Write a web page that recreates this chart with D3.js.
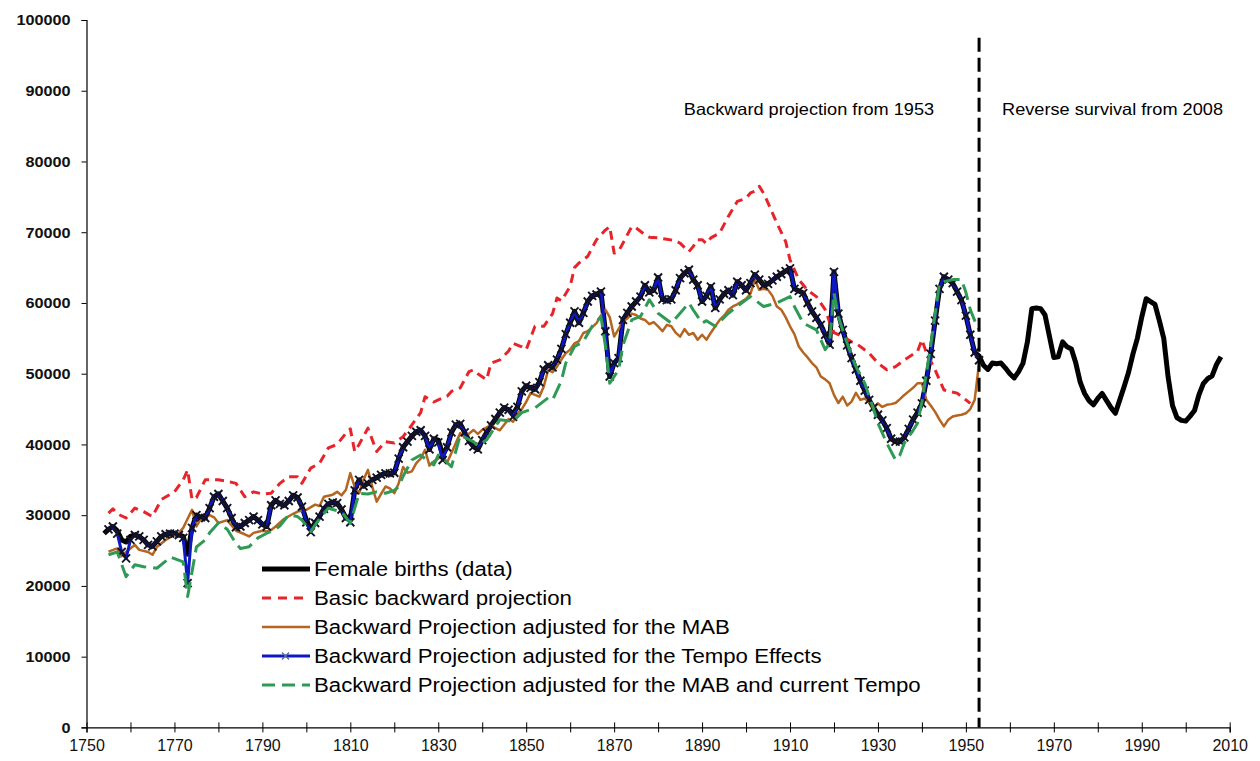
<!DOCTYPE html>
<html>
<head>
<meta charset="utf-8">
<script src="https://cdn.jsdelivr.net/npm/d3@7"></script>
<style>
body { margin: 0; background: #fff; }
svg { font-family: "Liberation Sans", Arial, sans-serif; }
</style>
</head>
<body>
<div class="chart"></div>
<script>
var chartWidth = 1260;
var chartHeight = 761;

// female births (data), one value per year from 1754 to 2008
var birthsStartYear = 1754;
var birthsData = [
    27400,28000,28400,27800,26500,26200,27000,27200,27000,26500,
    25800,25600,26300,27000,27300,27400,27400,27200,27000,24500,
    28200,30000,29700,29600,31000,32600,33000,32000,31000,29600,
    28300,28400,28900,29300,29800,29300,28700,28400,31400,32100,
    31600,31400,32000,32800,32500,31200,29300,28000,28900,29800,
    30900,31600,31800,31700,30800,29600,29300,33500,35000,34100,
    34500,35000,35300,35700,35900,35900,36000,38000,39600,40400,
    41200,41800,42000,41200,39300,40800,40600,38500,39600,41700,
    42800,42900,41700,40500,39700,39300,40600,41700,42700,43600,
    44500,45200,44900,44300,45300,47500,48300,48000,47800,48800,
    50600,51200,50900,52000,53500,55600,57200,58800,57200,58600,
    60200,61000,61200,61600,56000,49600,51500,52200,57600,58600,
    59500,60200,60900,62500,61500,61800,63600,60500,60400,60500,
    61800,63500,64200,64700,63300,62500,60200,61000,62300,59300,
    60500,61300,61800,61100,63000,62500,61800,62800,64000,63300,
    62500,62700,63200,63700,64100,64500,64900,62000,61700,61400,
    60000,58800,57900,56900,55500,54100,64400,58500,56200,54000,
    52200,50600,49000,47600,46300,45200,44200,43400,42300,40800,
    40400,40400,41000,42200,43500,44500,45800,49000,52800,57500,
    62000,63700,63300,62800,61600,60400,58200,55500,53000,52500,
    51200,50600,51500,51400,51500,50800,50000,49400,50300,51500,
    54500,59200,59300,59200,58300,55300,52300,52400,54500,53800,
    53500,51500,48800,47200,46200,45600,46500,47200,46200,45200,
    44400,46300,48200,50200,52800,55000,58000,60600,60200,59800,
    57500,55000,49500,45500,43800,43400,43300,44000,44800,47000,
    48600,49300,49700,51300,52400
];

// backward projection adjusted for the tempo effects, 1755 to 1953
var tempoStartYear = 1755;
var tempoAdjusted = [
    28000,28400,27400,24800,23900,26500,27200,27000,26500,25800,
    25600,26300,27000,27300,27400,27400,27200,26800,20400,28200,
    30000,29700,29600,31000,32600,33000,32000,31000,29600,28300,
    28400,28900,29300,29800,29300,28700,28400,31400,32100,31600,
    31400,32000,32800,32500,31200,29000,27600,28900,29800,30900,
    31600,31800,31700,30800,29600,29000,33500,35000,34100,34500,
    35000,35300,35700,35900,35900,36000,38000,39600,40400,41200,
    41800,42000,41200,39300,40800,40300,37800,39600,41700,42800,
    42900,41700,40500,39700,39300,40600,41700,42700,43600,44500,
    45200,44900,43900,45300,47500,48300,48000,47800,48800,50600,
    51200,50900,52000,53500,55600,57200,58800,57200,58600,60200,
    61000,61200,61600,56000,49600,51500,52200,57600,58600,59500,
    60200,60900,62500,61500,61800,63600,60500,60400,60500,61800,
    63500,64200,64700,63300,62500,60200,61000,62300,59300,60500,
    61300,61800,61100,63000,62500,61800,62800,64000,63300,62500,
    62700,63200,63700,64100,64500,64900,62000,61700,61400,60000,
    58800,57900,56900,55500,54100,64400,58500,56200,54000,52200,
    50600,49000,47600,46300,45200,44200,43400,42300,40800,40400,
    40400,41000,42200,43500,44500,45800,49000,52800,57500,62000,
    63700,63300,62800,61600,60400,58200,55500,53000,51900
];

// basic backward projection [year, births]
var basicProjection = [
    [1755,30300],[1756,30900],[1757,30200],[1759,29600],[1761,31000],[1763,30500],
    [1765,29800],[1767,32200],[1770,33300],[1772,35000],[1773,36400],[1774,32200],
    [1775,32500],[1777,35000],[1780,35000],[1782,34800],[1784,34500],[1786,32600],
    [1788,33300],[1790,33000],[1792,33100],[1794,34500],[1796,35450],[1798,35450],
    [1799,34500],[1801,36650],[1803,37350],[1805,39500],[1807,40000],[1809,41600],
    [1810,42200],[1811,39000],[1812,40000],[1814,42300],[1816,39000],[1818,40400],
    [1820,40200],[1822,41100],[1824,42750],[1826,44500],[1827,46750],[1829,46000],
    [1830,46300],[1832,46800],[1833,47500],[1835,48000],[1837,50300],[1838,50550],
    [1839,50000],[1841,49150],[1842,51500],[1844,51950],[1846,53200],[1847,54300],
    [1849,53800],[1850,53400],[1852,56700],[1854,56700],[1856,58500],[1857,60700],
    [1858,60300],[1860,62350],[1861,65000],[1862,65650],[1864,66600],[1866,68950],
    [1868,70300],[1869,70800],[1870,67050],[1871,67300],[1872,68450],[1874,70800],
    [1875,70600],[1877,69650],[1878,69300],[1880,69200],[1882,69000],[1884,68800],
    [1885,68450],[1887,67250],[1888,68000],[1889,68950],[1890,68950],[1891,68400],
    [1892,69200],[1894,69900],[1896,72250],[1898,74350],[1900,74800],[1901,75550],
    [1902,75800],[1903,76500],[1904,75500],[1905,74150],[1907,71300],[1909,68700],
    [1910,66100],[1912,63300],[1914,61800],[1916,60900],[1918,59050],[1919,57300],
    [1920,55800],[1922,55250],[1924,54500],[1925,54300],[1928,52900],[1930,51500],
    [1932,50550],[1934,51000],[1936,51950],[1939,53150],[1940,54800],[1941,53000],
    [1943,50550],[1945,47700],[1948,47250],[1950,46300],[1951,45800]
];

// backward projection adjusted for the MAB [year, births]
var mabAdjusted = [
    [1755,24850],[1757,25300],[1758,24200],[1759,24800],[1761,25800],[1762,25100],
    [1764,24800],[1765,24400],[1766,25500],[1768,26500],[1770,27200],[1771,27500],
    [1772,28200],[1773,29500],[1774,30750],[1775,28400],[1776,29500],[1778,30000],
    [1779,29700],[1780,28900],[1782,29300],[1784,27800],[1786,27300],[1787,27000],
    [1788,27500],[1790,27800],[1791,27700],[1792,27900],[1793,28400],[1795,29500],
    [1797,30200],[1798,30500],[1800,30750],[1802,31500],[1803,31300],[1804,32600],
    [1806,32900],[1807,33300],[1808,32800],[1809,33600],[1810,35950],[1811,34000],
    [1812,33100],[1813,35000],[1814,36400],[1815,34000],[1816,31900],[1817,33000],
    [1818,34050],[1819,33800],[1820,33100],[1821,34500],[1822,36800],[1823,36000],
    [1824,36200],[1825,37350],[1826,38000],[1827,39250],[1828,37000],[1829,37600],
    [1830,38000],[1831,38500],[1832,37400],[1833,38800],[1834,40200],[1835,41600],
    [1836,41000],[1838,42050],[1839,41500],[1840,42050],[1842,42750],[1843,42300],
    [1844,42000],[1846,43600],[1847,43200],[1848,44400],[1849,45000],[1850,46000],
    [1851,47250],[1853,46750],[1854,48200],[1855,50550],[1856,50200],[1857,51000],
    [1858,52000],[1859,52900],[1860,53400],[1861,54300],[1862,54600],[1863,55750],
    [1864,56000],[1866,57150],[1867,58200],[1868,59050],[1869,58000],[1870,55250],
    [1871,56300],[1872,57400],[1873,57800],[1874,58500],[1875,58300],[1876,57800],
    [1877,57600],[1878,57000],[1879,57300],[1880,56700],[1881,56000],[1882,56900],
    [1883,56700],[1884,55800],[1885,55250],[1886,56300],[1887,55500],[1888,55750],
    [1889,54800],[1890,55500],[1891,54800],[1892,55800],[1893,56700],[1894,57600],
    [1895,58200],[1896,59050],[1897,59500],[1898,59800],[1899,60200],[1900,60600],
    [1901,61300],[1902,63300],[1903,61850],[1904,62000],[1905,61850],[1906,61000],
    [1907,59500],[1908,59050],[1909,58000],[1910,56700],[1911,55600],[1912,53850],
    [1913,53000],[1914,52300],[1915,51500],[1916,50900],[1917,49600],[1918,49200],
    [1919,48650],[1920,47000],[1921,45850],[1922,46750],[1923,45500],[1924,46050],
    [1925,47300],[1926,46300],[1927,46500],[1928,45900],[1929,45150],[1930,45800],
    [1931,45300],[1932,45600],[1933,45700],[1934,45850],[1935,46400],[1936,47000],
    [1937,47500],[1938,48000],[1939,48650],[1940,48650],[1941,46300],[1942,45500],
    [1943,44600],[1944,43500],[1945,42550],[1946,43500],[1947,43950],[1948,44100],
    [1949,44200],[1950,44400],[1951,45000],[1952,46300],[1953,51500]
];

// backward projection adjusted for the MAB and current tempo [year, births]
var mabTempoAdjusted = [
    [1755,24400],[1757,24800],[1759,21300],[1761,23000],[1763,22700],[1766,22500],
    [1768,23500],[1769,24100],[1772,23400],[1773,18500],[1775,25500],[1777,26500],
    [1778,27500],[1780,28900],[1782,28000],[1784,26000],[1785,25300],[1787,25550],
    [1789,26800],[1791,27450],[1793,28000],[1794,28500],[1796,30050],[1798,29800],
    [1799,29300],[1801,27700],[1803,29500],[1805,31000],[1806,30800],[1808,30500],
    [1810,28850],[1812,33100],[1814,33000],[1816,33300],[1818,33100],[1820,33500],
    [1821,34050],[1822,35500],[1824,37800],[1826,38500],[1827,38000],[1829,37100],
    [1830,38500],[1831,38000],[1833,36850],[1835,41300],[1836,41000],[1838,40400],
    [1839,39800],[1841,40650],[1844,43500],[1847,43250],[1849,44500],[1852,45150],
    [1855,46600],[1856,46300],[1858,49000],[1859,51500],[1861,53850],[1863,54550],
    [1865,56700],[1867,58100],[1868,54000],[1869,48650],[1871,50550],[1872,54000],
    [1874,57600],[1876,58100],[1878,60450],[1880,58550],[1883,57150],[1885,58550],
    [1887,60000],[1888,59000],[1890,57150],[1891,57500],[1893,56700],[1896,58550],
    [1899,60000],[1901,60900],[1904,59500],[1907,60000],[1910,60900],[1911,59500],
    [1913,57150],[1916,56200],[1918,53400],[1919,54300],[1920,61400],[1921,58000],
    [1923,54300],[1925,51000],[1927,48650],[1929,45000],[1930,43000],[1932,40200],
    [1934,37800],[1935,38500],[1936,40200],[1938,42000],[1939,43000],[1940,46000],
    [1942,54000],[1944,62800],[1945,63000],[1947,63300],[1949,63300],[1950,61500],
    [1951,59050],[1952,57500],[1953,56200]
];

var xTickValues = d3.range(1750, 2011, 10);
var yTickValues = d3.range(0, 100001, 10000);
var splitYear = 1953;
var splitTop = 97500;
var leftNote = "Backward projection from 1953";
var rightNote = "Reverse survival from 2008";
var legendLabels = [
    "Female births (data)",
    "Basic backward projection",
    "Backward Projection adjusted for the MAB",
    "Backward Projection adjusted for the Tempo Effects",
    "Backward Projection adjusted for the MAB and current Tempo"
];

var svg = d3.select(".chart")
    .append("svg")
    .attr("width", chartWidth)
    .attr("height", chartHeight);

var xScale = d3.scaleLinear()
    .domain([1750, 2010])
    .range([86.5, 1229.7]);

var yScale = d3.scaleLinear()
    .domain([0, 100000])
    .range([727.4, 20]);

// the source picture is a bit wider than tall, stretch text to match
function stretchText(sel, factor) {
    sel.each(function() {
        var len = this.getComputedTextLength();
        if (len > 0) {
            d3.select(this)
                .attr("textLength", len * factor)
                .attr("lengthAdjust", "spacingAndGlyphs");
        }
    });
}

// axes
var xAxis = svg.append("g")
    .attr("transform", `translate(0,${yScale(0)})`)
    .call(d3.axisBottom(xScale)
        .tickValues(xTickValues)
        .tickSize(5)
        .tickPadding(7)
        .tickFormat(function(d) { return (d - 1750) % 20 === 0 ? d : ""; }));
xAxis.selectAll(".tick line").attr("y1", -5);

var yAxis = svg.append("g")
    .attr("transform", `translate(${xScale(1750)},0)`)
    .call(d3.axisLeft(yScale)
        .tickValues(yTickValues)
        .tickSize(5)
        .tickPadding(11)
        .tickFormat(d3.format("d")));

[xAxis, yAxis].forEach(function(ax) {
    ax.select(".domain").attr("stroke", "#000").attr("stroke-width", 1.2);
    ax.selectAll(".tick line").attr("stroke", "#000");
    ax.selectAll("text").attr("fill", "#111")
        .style("font-family", "'Liberation Sans', Arial, sans-serif");
});
xAxis.selectAll("text").style("font-size", "16px");
yAxis.selectAll("text").style("font-size", "15px").style("font-weight", "bold");
stretchText(yAxis.selectAll("text"), 1.08);

var line = d3.line()
    .x(function(d) { return xScale(d[0]); })
    .y(function(d) { return yScale(d[1]); });

var birthsPoints = birthsData.map(function(v, i) { return [birthsStartYear + i, v]; });
var tempoPoints = tempoAdjusted.map(function(v, i) { return [tempoStartYear + i, v]; });

var series = [
    {pts: birthsPoints, color: "#000", width: 5, dash: null},
    {pts: basicProjection, color: "#e8242b", width: 3, dash: "9,6"},
    {pts: mabAdjusted, color: "#b5651f", width: 2.5, dash: null},
    {pts: tempoPoints, color: "#0d18c4", width: 3, dash: null},
    {pts: mabTempoAdjusted, color: "#2f9a55", width: 3, dash: "16,7"}
];

series.forEach(function(s, i) {
    svg.append("path")
        .datum(s.pts)
        .attr("fill", "none")
        .attr("stroke", s.color)
        .attr("stroke-width", s.width)
        .attr("stroke-linejoin", "round")
        .attr("stroke-dasharray", s.dash)
        .attr("d", line);

    // tempo series carries an x marker at every year
    if (i === 3) {
        svg.append("g").selectAll("path")
            .data(s.pts)
            .enter()
            .append("path")
            .attr("d", "M-4,-4L4,4M-4,4L4,-4")
            .attr("transform", function(d) { return `translate(${xScale(d[0])},${yScale(d[1])})`; })
            .attr("stroke", "#121222")
            .attr("stroke-width", 1.9);
    }
});

// split between the two methods
svg.append("line")
    .attr("x1", xScale(splitYear)).attr("x2", xScale(splitYear))
    .attr("y1", yScale(splitTop)).attr("y2", yScale(0))
    .attr("stroke", "#000")
    .attr("stroke-width", 3)
    .attr("stroke-dasharray", "14,6");

var notes = svg.append("g");
notes.append("text")
    .attr("x", xScale(splitYear) - 45)
    .attr("y", 115)
    .attr("text-anchor", "end")
    .style("font-size", "16.5px")
    .text(leftNote);

notes.append("text")
    .attr("x", xScale(splitYear) + 23)
    .attr("y", 115)
    .attr("text-anchor", "start")
    .style("font-size", "16.5px")
    .text(rightNote);
stretchText(notes.selectAll("text"), 1.1);

// legend
var legend = svg.append("g").attr("transform", "translate(262,569)");
legendLabels.forEach(function(label, i) {
    var s = series[i];
    var row = legend.append("g").attr("transform", `translate(0,${i * 29})`);
    row.append("line")
        .attr("x1", 0).attr("x2", 48)
        .attr("stroke", s.color)
        .attr("stroke-width", s.width)
        .attr("stroke-dasharray", i === 1 ? "9,7" : (i === 4 ? "13,7" : null));
    if (i === 3) {
        row.append("path")
            .attr("d", "M20,-3.5L27,3.5M20,3.5L27,-3.5")
            .attr("stroke", "#5a6aa0")
            .attr("stroke-width", 1.4);
    }
    row.append("text")
        .attr("x", 52)
        .attr("dy", "0.35em")
        .style("font-size", "20px")
        .text(label);
});
stretchText(legend.selectAll("text"), 1.11);
</script>
</body>
</html>
